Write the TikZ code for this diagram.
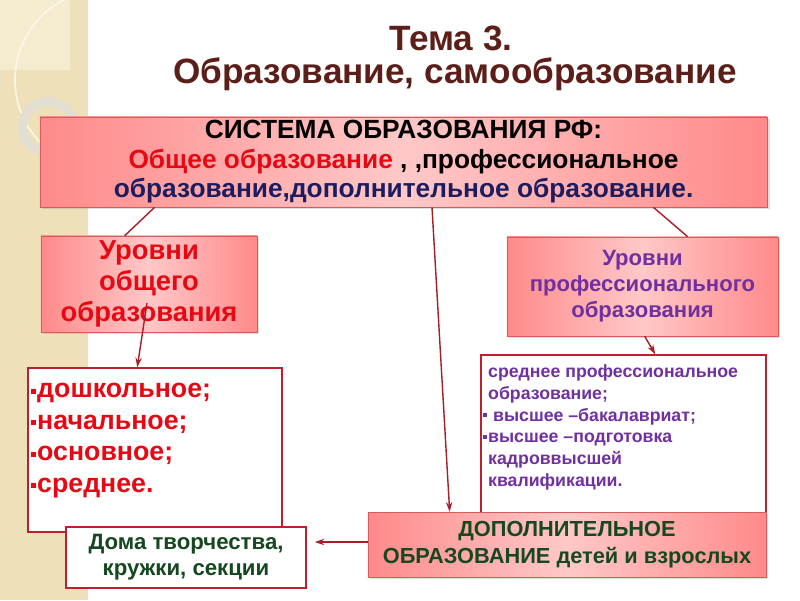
\documentclass[tikz,border=0pt]{standalone}
\usepackage{fontspec}
\setmainfont{Liberation Sans}
\usepackage{xcolor}
\usetikzlibrary{arrows.meta, positioning, calc, shadows}
\definecolor{titlebrown}{RGB}{92, 30, 24}
\definecolor{textred}{RGB}{230, 8, 18}
\definecolor{textnavy}{RGB}{28, 28, 96}
\definecolor{textpurple}{RGB}{112, 48, 160}
\definecolor{textgreen}{RGB}{22, 72, 32}
\definecolor{pinkside}{RGB}{255, 138, 138}
\definecolor{pinkmid}{RGB}{255, 200, 200}
\definecolor{boxedge}{RGB}{214, 92, 92}
\definecolor{listedge}{RGB}{190, 30, 45}
\definecolor{connred}{RGB}{165, 30, 40}
\definecolor{stripbeige}{RGB}{238, 224, 184}
\definecolor{striplight}{RGB}{245, 236, 208}
\definecolor{stripline}{RGB}{250, 246, 232}
\definecolor{ringgray}{RGB}{226, 222, 210}
\newcommand{\genbul}{\rule[0.15em]{0.2em}{0.2em}\hspace{0.05em}}
\newcommand{\probul}{\rule[0.2em]{0.24em}{0.24em}\hspace{0.08em}}

\begin{document}
\begin{tikzpicture}[x=0.025cm, y=-0.025cm,
    titletxt/.style={text=titlebrown, font=\fontsize{25}{29}\selectfont\bfseries, inner sep=0pt},
    pinkbox/.style={rectangle, draw=boxedge, left color=pinkside, right color=pinkside,
                    middle color=pinkmid, align=center, inner sep=2pt,
                    drop shadow={opacity=0.25, shadow xshift=0.06cm, shadow yshift=-0.06cm}},
    listbox/.style={rectangle, draw=listedge, line width=1pt, fill=white},
    listtxt/.style={align=left, inner sep=0pt},
    conn/.style={draw=connred, line width=1pt},
    arrow/.style={conn, -{Stealth[length=2.4mm, width=1.6mm]}},
]
    \useasboundingbox (0,0) rectangle (800,600);
    \fill[white] (0,0) rectangle (800,600);

    % Left decorative strip
    \fill[stripbeige] (0,0) rectangle (88,600);
    \fill[striplight] (0,0) rectangle (70,70);
    \begin{scope}
        \clip (0,0) rectangle (88,600);
        \draw[stripline, line width=1.2pt] (105,80) circle (90);
        \draw[ringgray, line width=0.225cm] (48,127) circle (25.5);
    \end{scope}

    % Title
    \node[titletxt] (theme) at (451,38) {Тема 3.};
    \node[titletxt] (topic) at (455,74) {Образование, самообразование};

    % Top: the whole system
    \node[pinkbox, minimum width=18.175cm, minimum height=2.25cm,
          font=\fontsize{18.7}{21}\selectfont\bfseries] (sys) at (403.5,162)
          {СИСТЕМА ОБРАЗОВАНИЯ РФ:\\{\color{textred}Общее образование} , ,профессиональное\\
           {\color{textnavy}образование,дополнительное образование.}};

    % Left: general education
    \node[pinkbox, minimum width=5.4cm, minimum height=2.4cm, text=textred,
          font=\fontsize{19.5}{22.3}\selectfont\bfseries] (lvlgen) at (149,284)
          {Уровни\\общего\\образования};
    \node[listbox, minimum width=6.35cm, minimum height=4.1cm] (genlist) at (155,450) {};
    \node[listtxt, anchor=north west, text=textred, font=\fontsize{19}{22.4}\selectfont\bfseries]
          (gentxt) at ([shift={(3,16)}]genlist.north west)
          {\genbul дошкольное;\\\genbul начальное;\\\genbul основное;\\\genbul среднее.};
    \node[listbox, minimum width=6cm, minimum height=1.525cm, align=center, text=textgreen,
          font=\fontsize{15.8}{18.5}\selectfont\bfseries] (houses) at (186,557.5)
          {\raisebox{-2pt}{Дома творчества,}\\\raisebox{-2pt}{кружки, секции}};

    % Right: professional education
    \node[pinkbox, minimum width=6.775cm, minimum height=2.475cm, text=textpurple,
          font=\fontsize{15.7}{18.5}\selectfont\bfseries] (lvlpro) at (642.5,286.5)
          {\raisebox{-2pt}{Уровни}\\\raisebox{-2pt}{профессионального}\\\raisebox{-2pt}{образования}};
    \node[listbox, minimum width=7.125cm, minimum height=4.375cm] (prolist) at (623.5,442.5) {};
    \node[listtxt, anchor=north west, text=textpurple, font=\fontsize{12.6}{15.5}\selectfont\bfseries]
          (protxt) at ([shift={(2,10)}]prolist.north west)
          {\phantom{\probul}среднее профессиональное\\\phantom{\probul}образование;\\
           \probul\ высшее –бакалавриат;\\\probul высшее –подготовка\\
           \phantom{\probul}кадроввысшей\\\phantom{\probul}квалификации.};

    % Bottom: additional education
    \node[pinkbox, minimum width=9.95cm, minimum height=1.625cm, text=textgreen,
          font=\fontsize{15.5}{19}\selectfont\bfseries] (extra) at (567,544.5)
          {ДОПОЛНИТЕЛЬНОЕ\\ОБРАЗОВАНИЕ детей и взрослых};

    % Connectors
    \draw[conn] ([shift={(115,0)}]sys.south west) -- ([shift={(84,0)}]lvlgen.north west);
    \draw[conn] ([shift={(-114,0)}]sys.south east) -- ([shift={(181,0)}]lvlpro.north west);
    \draw[arrow] ([shift={(28.5,0)}]sys.south) -- ([shift={(82,0)}]extra.north west);
    \draw[arrow] ([shift={(-2,19)}]lvlgen.center) -- ([shift={(110,0)}]genlist.north west);
    \draw[arrow] ([shift={(138,0)}]lvlpro.south west) -- ([shift={(175,0)}]prolist.north west);
    \draw[arrow] ([shift={(0,-2.5)}]extra.west) -- ([shift={(8,-15.5)}]houses.east);
\end{tikzpicture}
\end{document}
